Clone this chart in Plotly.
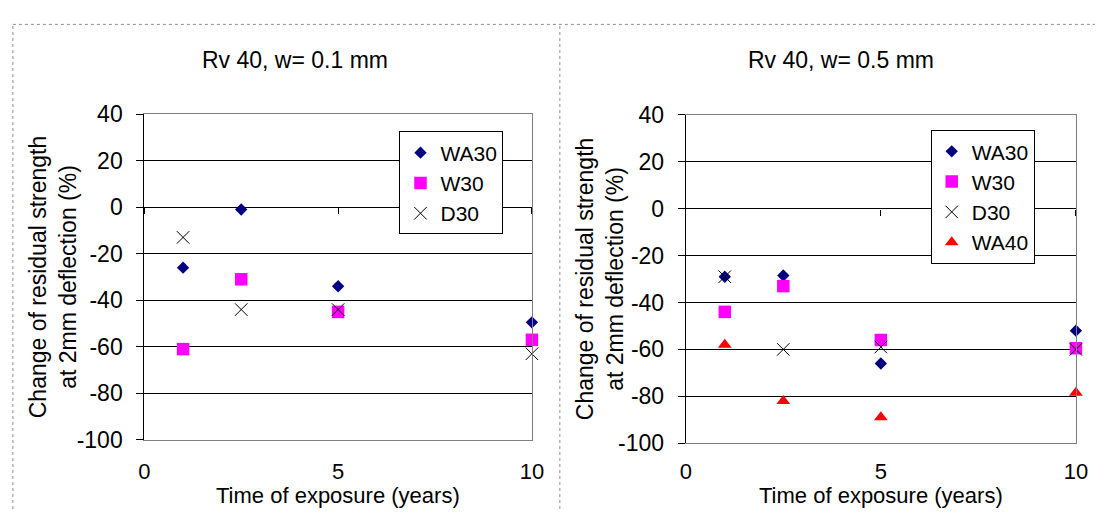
import plotly.graph_objects as go

# ---- data ----
years = [1, 2.5, 5, 10]
x_ticks = [0, 5, 10]
y_ticks = [-100, -80, -60, -40, -20, 0, 20, 40]
y_ticktext = ["-100", "-80", "-60", "-40", "-20", "0", "20", "40"]
grid_vals = [-80, -60, -40, -20, 0, 20]

titles = ["Rv 40, w= 0.1 mm", "Rv 40, w= 0.5 mm"]
x_title = "Time of exposure (years)"
y_title = "Change of residual strength<br>at 2mm deflection (%)"

# w = 0.1 mm
wa30_w01 = [-26, -1, -34, -49.5]
w30_w01 = [-61, -31, -45, -57]
d30_w01 = [-13, -44, -44, -63]

# w = 0.5 mm
wa30_w05 = [-29, -28.5, -66, -52]
w30_w05 = [-44, -33, -56, -59.5]
d30_w05 = [-29, -60, -59, -60]
wa40_w05 = [-58, -82, -89, -78.5]

W, H = 1107, 522
FONT = "Liberation Sans, Arial, sans-serif"
FS = 23

styles = {
    "WA30": dict(symbol="diamond", size=9.5, color="#000080"),
    "W30": dict(symbol="square", size=12.5, color="#FF00FF"),
    "D30": dict(symbol="x-thin", size=12.5, color="#000000", line=dict(width=1, color="#000000")),
    "WA40": dict(symbol="triangle-up", size=12, color="#FF0000"),
}

fig = go.Figure()

def add(name, vals, xa, ya, legend):
    fig.add_trace(go.Scatter(
        x=years, y=vals, mode="markers", name=name,
        marker=styles[name], xaxis=xa, yaxis=ya, legend=legend,
        cliponaxis=False,
    ))

add("WA30", wa30_w01, "x", "y", "legend")
add("W30", w30_w01, "x", "y", "legend")
add("D30", d30_w01, "x", "y", "legend")
add("WA30", wa30_w05, "x2", "y2", "legend2")
add("W30", w30_w05, "x2", "y2", "legend2")
add("D30", d30_w05, "x2", "y2", "legend2")
add("WA40", wa40_w05, "x2", "y2", "legend2")
# empty helper traces so the overlay axes (zero-line ticks, grid/right border) are drawn
for xa, ya in [("x3", "y"), ("x4", "y2"), ("x", "y3"), ("x2", "y4")]:
    fig.add_trace(go.Scatter(x=[], y=[], xaxis=xa, yaxis=ya, showlegend=False, hoverinfo="skip"))

def px_x(v):
    return v / W

def px_y(v):
    return 1 - v / H

left_dom_x = [px_x(140.6), px_x(534.6)]
left_dom_y = [px_y(449.3), px_y(106.3)]
right_dom_x = [px_x(691.0), px_x(1087.6)]
right_dom_y = [px_y(452.7), px_y(107.3)]

def zero_pos(dom):
    return dom[0] + (0 - (-100)) / 140 * (dom[1] - dom[0])

tickfont = dict(family=FONT, size=FS, color="black")
xtickfont = dict(family=FONT, size=22, color="black")

xbase = dict(range=[0, 10], tickvals=x_ticks, ticks="", showgrid=False, zeroline=False,
             showline=True, mirror=True, linecolor="#808080", linewidth=1,
             tickfont=xtickfont, ticklabelstandoff=12, fixedrange=True)
ybase = dict(range=[-100, 40], tickvals=y_ticks, ticktext=y_ticktext, showgrid=False,
             zeroline=False, showline=True, linecolor="black", linewidth=1,
             ticks="outside", ticklen=7, tickcolor="black", tickfont=tickfont,
             ticklabelstandoff=9, fixedrange=True)
ygrid = dict(range=[-100, 40], tickvals=grid_vals, showgrid=True, gridcolor="black", gridwidth=1,
             zeroline=False, showline=True, linecolor="#808080", linewidth=1, side="right",
             ticks="", showticklabels=False, fixedrange=True)
xzero = dict(range=[0, 10], tickvals=x_ticks, ticks="outside", ticklen=6, tickcolor="black",
             showticklabels=False, showgrid=False, zeroline=False, showline=False,
             anchor="free", fixedrange=True)

fig.update_layout(
    width=W, height=H, margin=dict(l=0, r=0, t=0, b=0),
    paper_bgcolor="white", plot_bgcolor="white",
    font=dict(family=FONT, size=FS, color="black"),
    xaxis=dict(xbase, domain=left_dom_x, anchor="y"),
    yaxis=dict(ybase, domain=left_dom_y, anchor="x"),
    xaxis2=dict(xbase, domain=right_dom_x, anchor="y2", ticklabelstandoff=8),
    yaxis2=dict(ybase, domain=right_dom_y, anchor="x2"),
    xaxis3=dict(xzero, overlaying="x", position=zero_pos(left_dom_y)),
    xaxis4=dict(xzero, overlaying="x2", position=zero_pos(right_dom_y)),
    yaxis3=dict(ygrid, overlaying="y", anchor="x"),
    yaxis4=dict(ygrid, overlaying="y2", anchor="x2"),
    legend=dict(x=px_x(400), y=px_y(124.7), xanchor="left", yanchor="top",
                bgcolor="white", bordercolor="black", borderwidth=1,
                font=dict(family=FONT, size=21), tracegroupgap=0, itemwidth=30),
    legend2=dict(x=px_x(940), y=px_y(123.3), xanchor="left", yanchor="top",
                 bgcolor="white", bordercolor="black", borderwidth=1,
                 font=dict(family=FONT, size=21), tracegroupgap=0, itemwidth=30),
    showlegend=True,
)

# dotted chart-area borders
dot = dict(color="#909090", width=1, dash="dot")
fig.add_shape(type="line", xref="paper", yref="paper", x0=px_x(7), x1=1, y0=px_y(12), y1=px_y(12), line=dot)
fig.add_shape(type="line", xref="paper", yref="paper", x0=px_x(7), x1=px_x(7), y0=0, y1=px_y(12), line=dot)
fig.add_shape(type="line", xref="paper", yref="paper", x0=px_x(563), x1=px_x(563), y0=0, y1=px_y(12), line=dot)

# titles
for t, cx in zip(titles, [293.4, 848.8]):
    fig.add_annotation(text=t, xref="paper", yref="paper", x=px_x(cx), y=px_y(49.3),
                       xanchor="center", yanchor="middle", showarrow=False,
                       font=dict(family=FONT, size=FS, color="black"))
# y titles
for cx, cy in [(47.9, 278), (604, 280)]:
    fig.add_annotation(text=y_title, xref="paper", yref="paper", x=px_x(cx), y=px_y(cy),
                       xanchor="center", yanchor="middle", showarrow=False, textangle=-90,
                       font=dict(family=FONT, size=FS, color="black"))
# x titles
for cx in [337.6, 889.3]:
    fig.add_annotation(text=x_title, xref="paper", yref="paper", x=px_x(cx), y=0,
                       xanchor="center", yanchor="bottom", showarrow=False, borderpad=0,
                       font=dict(family=FONT, size=22, color="black"))

fig.write_html("out.html")
